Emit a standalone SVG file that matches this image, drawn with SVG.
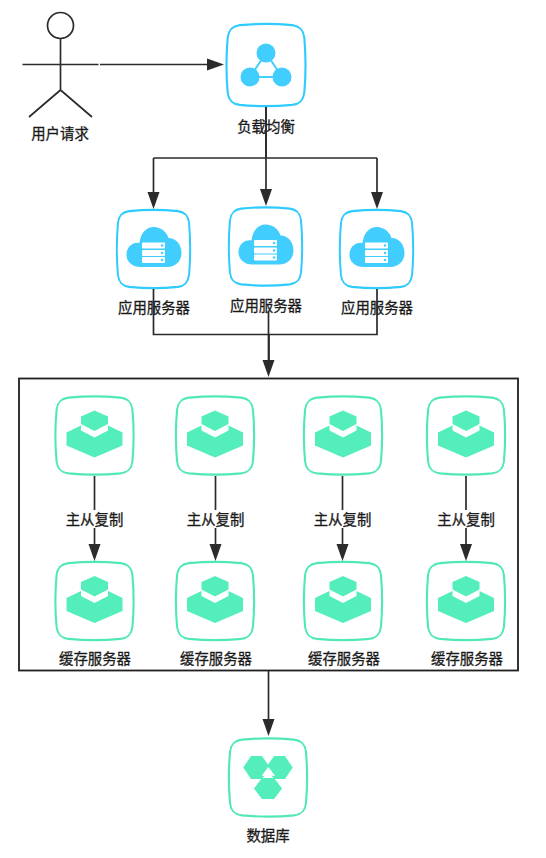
<svg xmlns="http://www.w3.org/2000/svg" width="546" height="858" viewBox="0 0 546 858">
<style>
text{font-family:"Noto Sans CJK SC","Liberation Sans",sans-serif;font-size:14.4px;fill:#1a1a1a;stroke:#1a1a1a;stroke-width:.3px;text-anchor:middle}
.line{fill:none;stroke:#2b2b2b;stroke-width:1.7}
.arrow{marker-end:url(#head)}
.blue{fill:#fff;stroke:#2ecbff;stroke-width:2.2}
.green{fill:#fff;stroke:#50e8b9;stroke-width:2.2}
.bf{fill:#42cdff}
.gf{fill:#53eebb}
</style>
<defs>
<marker id="head" markerUnits="userSpaceOnUse" markerWidth="18" markerHeight="13" refX="0" refY="6.500" orient="auto"><path d="M0 0.500L17 6.500L0 12.500Z" fill="#2b2b2b"/></marker>
<path id="frame" d="M-27-39.500Q0-42 27-39.500C35-38.500 38.500-35 39.500-27Q42 0 39.500 27C38.500 35 35 38.500 27 39.500Q0 42-27 39.500C-35 38.500-38.500 35-39.500 27Q-42 0-39.500-27C-38.500-35-35-38.500-27-39.500Z"/>
<g id="cloud">
<path class="bf" d="M-13 18C-22 18-27 12-27 6C-27-2-21-7-14-6C-13-16-7-22 0-22C8-22 13-17 15-11C23-11 28-4 28 4C28 12 22 18 14 18Z"/>
<g fill="#fff"><rect x="-11.500" y="-6.500" width="23" height="6" rx="1"/><rect x="-11.500" y="1" width="23" height="6" rx="1"/><rect x="-11.500" y="8" width="23" height="6" rx="1"/></g>
<g class="bf"><circle cx="8.500" cy="-3.500" r="1.200"/><circle cx="8.500" cy="4" r="1.200"/><circle cx="8.500" cy="11" r="1.200"/></g>
</g>
<g id="cube">
<path class="gf" d="M0-25L13.500-19V-11.500L0-4.500L-13.500-11.500V-19Z"/>
<path class="gf" d="M-28-3L-13.500-10V-5L0 2L13.500-5V-10L28-3V10L0 22L-28 10Z"/>
</g>
</defs>
<rect width="546" height="858" fill="#fff"/>

<rect id="cache-cluster" x="19" y="378.500" width="499" height="292" fill="none" stroke="#1f1f1f" stroke-width="1.800"/>

<g id="user" fill="none" stroke="#2b2b2b" stroke-width="1.700">
<circle cx="60.500" cy="25.500" r="13"/>
<path d="M60.500 38.500V90M22.500 64.500H98.500M60.500 90L29 117M60.500 90L92 117"/>
<text x="60" y="139">用户请求</text>
</g>

<g id="load-balancer">
<use href="#frame" class="blue" transform="translate(266 65) scale(.97 1.010)"/>
<path d="M266 53L250 77H282Z" fill="none" stroke="#42cdff" stroke-width="2"/>
<circle class="bf" cx="266" cy="53" r="9.500"/><circle class="bf" cx="250" cy="77" r="9.500"/><circle class="bf" cx="282" cy="77" r="9.500"/>
<text x="266" y="132">负载均衡</text>
</g>

<g id="app-1">
<use href="#frame" class="blue" transform="translate(153.500 249) scale(.9 .96)"/>
<use href="#cloud" transform="translate(153.500 249)"/>
<text x="154" y="313">应用服务器</text>
</g>
<g id="app-2">
<use href="#frame" class="blue" transform="translate(265.500 246.500) scale(.9 .96)"/>
<use href="#cloud" transform="translate(265.500 246.500)"/>
<text x="266" y="311">应用服务器</text>
</g>
<g id="app-3">
<use href="#frame" class="blue" transform="translate(376.500 249) scale(.9 .96)"/>
<use href="#cloud" transform="translate(376.500 249)"/>
<text x="377" y="313">应用服务器</text>
</g>

<g id="cache-m1"><use href="#frame" class="green" transform="translate(94.500 435.500) scale(.96)"/><use href="#cube" transform="translate(94.500 435.500)"/></g>
<g id="cache-m2"><use href="#frame" class="green" transform="translate(215 435.500) scale(.96)"/><use href="#cube" transform="translate(215 435.500)"/></g>
<g id="cache-m3"><use href="#frame" class="green" transform="translate(343 435.500) scale(.96)"/><use href="#cube" transform="translate(343 435.500)"/></g>
<g id="cache-m4"><use href="#frame" class="green" transform="translate(466 435.500) scale(.96)"/><use href="#cube" transform="translate(466 435.500)"/></g>

<g id="cache-s1"><use href="#frame" class="green" transform="translate(94.500 601) scale(.96)"/><use href="#cube" transform="translate(94.500 601)"/><text x="95" y="664">缓存服务器</text></g>
<g id="cache-s2"><use href="#frame" class="green" transform="translate(215 601) scale(.96)"/><use href="#cube" transform="translate(215 601)"/><text x="216" y="664">缓存服务器</text></g>
<g id="cache-s3"><use href="#frame" class="green" transform="translate(343 601) scale(.96)"/><use href="#cube" transform="translate(343 601)"/><text x="344" y="664">缓存服务器</text></g>
<g id="cache-s4"><use href="#frame" class="green" transform="translate(466 601) scale(.96)"/><use href="#cube" transform="translate(466 601)"/><text x="467" y="664">缓存服务器</text></g>

<g id="database">
<use href="#frame" class="green" transform="translate(268 777.500) scale(.96)"/>
<g class="gf"><path d="M243.300 767.500L251 756H262L270 767.500L262 779H251Z"/><path d="M266 767.500L274 756H285L292.700 767.500L285 779H274Z"/><path d="M254 788.500L262 778H274L282 788.500L274 799H262Z"/></g>
<path d="M268.300 767L275 775.700H261.700Z" fill="#fff"/>
<text x="268" y="841">数据库</text>
</g>

<g id="connectors">
<path class="line arrow" d="M100 64.500H207"/>
<path class="line" d="M266 107V158M153.500 158H377"/>
<path class="line arrow" d="M153.500 158V192"/>
<path class="line arrow" d="M266 107V189"/>
<path class="line arrow" d="M377 158V192"/>
<path class="line" d="M153.500 289V334.500H377V289"/>
<path class="line arrow" d="M268.500 312V360"/>
<path class="line" d="M269 334.500V360"/>
<g id="replication-edges">
<path class="line" d="M94.500 476V510"/><path class="line arrow" d="M94.500 528V544"/><text x="94.500" y="524.500">主从复制</text>
<path class="line" d="M215.500 476V510"/><path class="line arrow" d="M215.500 528V544"/><text x="215.500" y="524.500">主从复制</text>
<path class="line" d="M342.500 476V510"/><path class="line arrow" d="M342.500 528V544"/><text x="342.500" y="524.500">主从复制</text>
<path class="line" d="M466 476V510"/><path class="line arrow" d="M466 528V544"/><text x="466" y="524.500">主从复制</text>
</g>
<path class="line arrow" d="M268.500 671V719"/>
</g>
</svg>
